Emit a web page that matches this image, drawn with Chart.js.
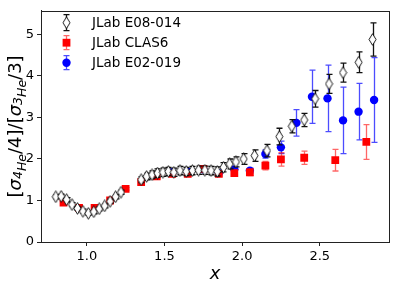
<!DOCTYPE html>
<html><head><meta charset="utf-8">
<script src="https://cdn.jsdelivr.net/npm/chart.js@4/dist/chart.umd.min.js"></script>
<style>html,body{margin:0;padding:0;background:#fff}</style>
</head><body>
<canvas id="c" width="395" height="288"></canvas>
<script>
// ---- data ----
const e08X = [0.80,0.835,0.87,0.905,0.94,0.975,1.01,1.045,1.08,1.115,1.15,1.185,1.22,
              1.35,1.385,1.42,1.455,1.49,1.525,1.56,1.60,1.64,1.68,1.72,1.76,1.80,1.84,1.88,1.92,1.96,
              2.01,2.08,2.16,2.24,2.32,2.40,2.47,2.56,2.65,2.75,2.84];
const e08Y = [1.09,1.10,1.02,0.90,0.81,0.74,0.69,0.73,0.80,0.87,0.98,1.09,1.20,
              1.50,1.58,1.62,1.66,1.68,1.70,1.68,1.72,1.70,1.72,1.73,1.73,1.72,1.70,1.80,1.88,1.93,
              2.00,2.08,2.20,2.54,2.79,2.94,3.45,3.81,4.08,4.33,4.88];
const e08Err = [0.05,0.05,0.05,0.05,0.05,0.05,0.05,0.05,0.05,0.05,0.05,0.05,0.05,
                0.07,0.08,0.09,0.10,0.10,0.10,0.10,0.10,0.10,0.10,0.10,0.10,0.10,0.11,0.11,0.12,0.12,
                0.13,0.14,0.15,0.20,0.16,0.16,0.20,0.23,0.23,0.25,0.40];

const clasX = [0.85,0.95,1.05,1.15,1.25,1.35,1.45,1.55,1.65,1.75,1.85,1.95,2.05,2.15,2.25,2.40,2.60,2.80];
const clasY = [0.95,0.82,0.82,1.00,1.28,1.44,1.58,1.64,1.64,1.76,1.64,1.66,1.68,1.84,1.99,2.03,1.97,2.41];
const clasErr = [0.03,0.03,0.03,0.03,0.03,0.04,0.05,0.05,0.05,0.06,0.06,0.07,0.08,0.10,0.16,0.16,0.26,0.42];

const e02X = [1.55,1.65,1.75,1.85,1.95,2.05,2.15,2.25,2.35,2.45,2.55,2.65,2.75,2.85];
const e02Y = [1.68,1.70,1.75,1.66,1.75,1.72,2.12,2.28,2.87,3.50,3.46,2.93,3.14,3.42];
const e02Err = [0.04,0.04,0.05,0.05,0.05,0.06,0.10,0.15,0.32,0.64,0.80,0.80,0.68,1.02];

const xTicks = [1.0,1.5,2.0,2.5];
const yTicks = [0,1,2,3,4,5];
const seriesNames = ['JLab E08-014','JLab CLAS6','JLab E02-019'];

const FONT = "'DejaVu Sans', sans-serif";

// thin diamond marker
function thinDiamond(){
  const w=9,h=13,c=document.createElement('canvas');c.width=w;c.height=h;
  const g=c.getContext('2d');
  g.beginPath();g.moveTo(w/2,0.7);g.lineTo(w-1,h/2);g.lineTo(w/2,h-0.7);g.lineTo(1,h/2);g.closePath();
  g.fillStyle='#fff';g.fill();g.strokeStyle='#000';g.lineWidth=0.9;g.stroke();
  return c;
}
const diamondImg = thinDiamond();

const pts = (xs,ys)=>xs.map((x,i)=>({x:x,y:ys[i]}));

const errStyles = [
  {color:'#111', err:e08Err},
  {color:'rgba(255,0,0,0.6)', err:clasErr},
  {color:'rgba(0,0,255,0.7)', err:e02Err}
];

const errorBars = {
  id:'errorBars',
  beforeDatasetDraw(chart,args){
    const i=args.index, st=errStyles[i]; if(!st) return;
    const ds=chart.data.datasets[i], xs=chart.scales.x, ys=chart.scales.y, ctx=chart.ctx;
    ctx.save();ctx.strokeStyle=st.color;ctx.lineWidth=1.3;
    ds.data.forEach((p,k)=>{
      const e=st.err[k]; const px=Math.round(xs.getPixelForValue(p.x))+0.5;
      const y1=ys.getPixelForValue(p.y+e), y2=ys.getPixelForValue(p.y-e);
      ctx.beginPath();ctx.moveTo(px,y1);ctx.lineTo(px,y2);
      ctx.moveTo(px-3,y1);ctx.lineTo(px+3,y1);ctx.moveTo(px-3,y2);ctx.lineTo(px+3,y2);ctx.stroke();
    });
    ctx.restore();
  }
};

const decorations = {
  id:'decorations',
  afterDraw(chart){
    const ctx=chart.ctx, a=chart.chartArea;
    ctx.save();
    // frame
    ctx.strokeStyle='#222';ctx.lineWidth=1;
    ctx.strokeRect(Math.round(a.left)+0.5,Math.round(a.top)+0.5,Math.round(a.right-a.left),Math.round(a.bottom-a.top));
    // legend
    const lx=66, rows=[22.7,42.7,62.7];
    rows.forEach((ry,i)=>{
      const st=errStyles[i];
      ctx.strokeStyle=st.color;ctx.lineWidth=1.3;
      const half=i===0?8:7;
      ctx.beginPath();ctx.moveTo(lx+0.5,ry-half);ctx.lineTo(lx+0.5,ry+half);
      ctx.moveTo(lx-2.5,ry-half);ctx.lineTo(lx+3.5,ry-half);ctx.moveTo(lx-2.5,ry+half);ctx.lineTo(lx+3.5,ry+half);ctx.stroke();
      if(i===0){ctx.drawImage(diamondImg,lx+0.5-4.5,ry-6.5);}
      else if(i===1){ctx.fillStyle='#ff0000';ctx.fillRect(lx+0.5-3.9,ry-3.9,7.8,7.8);}
      else {ctx.fillStyle='#0000ff';ctx.beginPath();ctx.arc(lx+0.5,ry,4.2,0,Math.PI*2);ctx.fill();}
      ctx.fillStyle='#000';ctx.font='13.5px '+FONT;ctx.textBaseline='middle';ctx.textAlign='left';
      ctx.fillText(seriesNames[i],92,ry+0.5);
    });
    // x label
    ctx.fillStyle='#000';ctx.font='italic 18px '+FONT;ctx.textAlign='center';ctx.textBaseline='alphabetic';
    ctx.fillText('x',(a.left+a.right)/2,279);
    // y label with subscripts
    const big='18px '+FONT, bigI='italic 18px '+FONT, sub='italic 12.5px '+FONT;
    const parts=[['[',big],['σ',bigI],['4',sub],['He',sub],['/4]/[',big],['σ',bigI],['3',sub],['He',sub],['/3]',big]];
    const spec=[ [0,0],[0,0],[1,1],[1,0],[0,0],[0,0],[1,1],[1,0],[0,0] ];
    let tot=0; parts.forEach(p=>{ctx.font=p[1];tot+=ctx.measureText(p[0]).width;});
    ctx.translate(15,(a.top+a.bottom)/2);ctx.rotate(-Math.PI/2);
    let x=-tot/2; ctx.textAlign='left';
    parts.forEach((p,k)=>{ctx.font=p[1];let dy=0; if(spec[k][0]) dy = spec[k][1]?1:5;
      ctx.fillText(p[0],x,6+dy); x+=ctx.measureText(p[0]).width;});
    ctx.restore();
  }
};

new Chart(document.getElementById('c'),{
  type:'scatter',
  data:{datasets:[
    {label:seriesNames[0],data:pts(e08X,e08Y),pointStyle:diamondImg,pointRadius:5},
    {label:seriesNames[1],data:pts(clasX,clasY),pointStyle:'rect',pointRadius:5.5,backgroundColor:'#ff0000',borderColor:'#ff0000',borderWidth:0},
    {label:seriesNames[2],data:pts(e02X,e02Y),pointStyle:'circle',pointRadius:4.2,backgroundColor:'#0000ff',borderColor:'#0000ff',borderWidth:0}
  ]},
  options:{
    responsive:false,animation:false,devicePixelRatio:1,
    layout:{padding:{left:0,right:5,top:4,bottom:0}},
    plugins:{legend:{display:false},tooltip:{enabled:false}},
    scales:{
      x:{type:'linear',min:0.705,max:2.946,
         afterBuildTicks(s){s.ticks=xTicks.map(v=>({value:v}));},
         afterFit(s){s.height=46;},
         grid:{drawOnChartArea:false,drawTicks:true,tickLength:4,color:'#222'},
         border:{display:true,color:'#222'},
         ticks:{padding:3,color:'#000',font:{family:FONT,size:13},maxRotation:0,callback:v=>v.toFixed(1)}},
      y:{type:'linear',min:0,max:5.57,
         afterBuildTicks(s){s.ticks=yTicks.map(v=>({value:v}));},
         afterFit(s){s.width=41;},
         grid:{drawOnChartArea:false,drawTicks:true,tickLength:4,color:'#222'},
         border:{display:true,color:'#222'},
         ticks:{padding:3,color:'#000',font:{family:FONT,size:13},callback:v=>String(v)}}
    }
  },
  plugins:[errorBars,decorations]
});
</script>
</body></html>
